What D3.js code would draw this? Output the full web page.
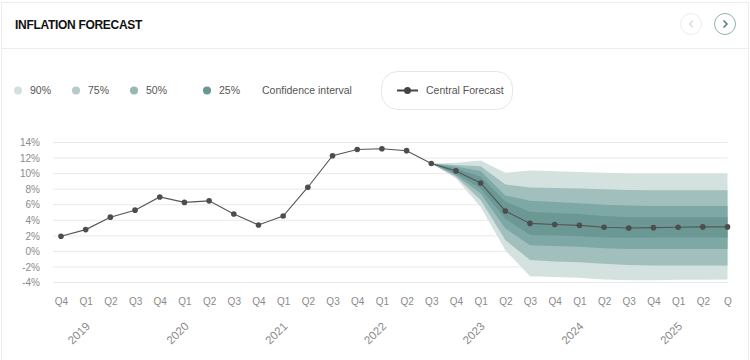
<!DOCTYPE html>
<html>
<head>
<meta charset="utf-8">
<script src="https://cdn.jsdelivr.net/npm/d3@7"></script>
<style>
html, body { margin: 0; padding: 0; background: #fff; }
svg { display: block; font-family: "Liberation Sans", Arial, Helvetica, sans-serif; }
</style>
</head>
<body>
<svg id="chart" width="750" height="360"></svg>
<script>
// ---- Data ----
const quarterLabels = ["Q4","Q1","Q2","Q3","Q4","Q1","Q2","Q3","Q4","Q1","Q2","Q3","Q4","Q1","Q2","Q3","Q4","Q1","Q2","Q3","Q4","Q1","Q2","Q3","Q4","Q1","Q2","Q"];
const yearLabels = ["2019","2020","2021","2022","2023","2024","2025"];
const yearLabelIndex = [1, 5, 9, 13, 17, 21, 25];
const inflation = [1.95, 2.8, 4.4, 5.3, 7.0, 6.3, 6.5, 4.8, 3.4, 4.55, 8.25, 12.3, 13.1, 13.2, 12.95, 11.3,
                   10.35, 8.8, 5.2, 3.6, 3.45, 3.35, 3.1, 3.0, 3.05, 3.1, 3.15, 3.15];
const forecastStart = 15;
const ci90Upper = [11.3, 11.4, 11.7, 10.1, 10.4, 10.3, 10.2, 10.1, 10.0, 10.0, 10.0, 10.0, 10.0];
const ci90Lower = [11.3, 9.4, 5.7, 0.15, -3.2, -3.3, -3.4, -3.6, -3.7, -3.7, -3.65, -3.65, -3.6];
const ci75Upper = [11.3, 11.1, 10.95, 8.6, 8.2, 8.15, 8.1, 8.0, 7.9, 7.85, 7.85, 7.85, 7.85];
const ci75Lower = [11.3, 9.6, 6.6, 1.45, -1.1, -1.3, -1.4, -1.6, -1.75, -1.8, -1.8, -1.8, -1.8];
const ci50Upper = [11.3, 10.9, 10.35, 7.2, 6.5, 6.35, 6.2, 6.0, 5.9, 5.85, 5.85, 5.85, 5.85];
const ci50Lower = [11.3, 9.8, 7.45, 2.95, 0.8, 0.7, 0.6, 0.4, 0.3, 0.3, 0.3, 0.3, 0.3];
const ci25Upper = [11.3, 10.65, 9.6, 6.4, 5.1, 4.95, 4.8, 4.55, 4.4, 4.4, 4.4, 4.4, 4.4];
const ci25Lower = [11.3, 10.0, 8.1, 4.2, 2.1, 2.05, 1.95, 1.8, 1.75, 1.8, 1.8, 1.8, 1.8];
const yTicks = [-4, -2, 0, 2, 4, 6, 8, 10, 12, 14];
const legendLabels = ["90%", "75%", "50%", "25%"];
const legendColors = ["#d2e0de", "#b3cbc9", "#97b8b5", "#699794"];
const bandColors = ["#d3e1df", "#a1bfbc", "#7ea8a5", "#6b9895"];

// ---- Layout ----
const svg = d3.select("#chart");
const W = 750, H = 360;

// card
svg.append("rect").attr("x", 1.5).attr("y", 2.5).attr("width", W - 3).attr("height", H)
  .attr("fill", "#fff").attr("stroke", "#ececec");
svg.append("line").attr("x1", 1.5).attr("x2", W - 1.5).attr("y1", 48.5).attr("y2", 48.5)
  .attr("stroke", "#ececec");
svg.append("text").attr("x", 15).attr("y", 29).text("INFLATION FORECAST")
  .attr("font-size", 12).attr("font-weight", "bold").attr("fill", "#111")
  .attr("letter-spacing", -0.3);

// nav buttons
svg.append("circle").attr("cx", 691).attr("cy", 24).attr("r", 10.5)
  .attr("fill", "#fff").attr("stroke", "#eeeeee");
svg.append("path").attr("d", "M693,20.5 L689.5,24 L693,27.5").attr("fill", "none")
  .attr("stroke", "#d8d8d8").attr("stroke-width", 1.2);
svg.append("circle").attr("cx", 725).attr("cy", 24).attr("r", 10.5)
  .attr("fill", "#fff").attr("stroke", "#8fb3b0");
svg.append("path").attr("d", "M723.5,20.5 L727,24 L723.5,27.5").attr("fill", "none")
  .attr("stroke", "#4f7d7a").attr("stroke-width", 1.5);

// legend
const legX = [18, 76, 134, 207];
legendLabels.forEach((l, i) => {
  svg.append("circle").attr("cx", legX[i]).attr("cy", 90.5).attr("r", 4).attr("fill", legendColors[i]);
  svg.append("text").attr("x", legX[i] + 12).attr("y", 94.3).text(l)
    .attr("font-size", 10.5).attr("fill", "#555");
});
svg.append("text").attr("x", 262).attr("y", 94.3).text("Confidence interval")
  .attr("font-size", 10.5).attr("fill", "#555");
svg.append("rect").attr("x", 381.5).attr("y", 71.5).attr("width", 131).attr("height", 38)
  .attr("rx", 16).attr("fill", "#fff").attr("stroke", "#e6e6e6");
svg.append("line").attr("x1", 397).attr("x2", 418).attr("y1", 90.5).attr("y2", 90.5)
  .attr("stroke", "#444").attr("stroke-width", 2);
svg.append("circle").attr("cx", 407.5).attr("cy", 90.5).attr("r", 3.5).attr("fill", "#444");
svg.append("text").attr("x", 426).attr("y", 94.3).text("Central Forecast")
  .attr("font-size", 10.5).attr("fill", "#555");

// scales
const x = d3.scaleLinear().domain([0, quarterLabels.length - 1]).range([61, 727.5]);
const y = d3.scaleLinear().domain([-4, 14]).range([282.5, 142.5]);

// grid
const g = svg.append("g");
g.selectAll("line.grid").data(yTicks).enter().append("line")
  .attr("x1", 53).attr("x2", 727.5)
  .attr("y1", d => y(d)).attr("y2", d => y(d))
  .attr("stroke", "#e9e9e9").attr("stroke-width", 1);

// y axis labels via d3 axis
const yAxis = d3.axisLeft(y).tickValues(yTicks).tickFormat(d => d + "%").tickSize(0).tickPadding(0);
const yG = svg.append("g").attr("transform", "translate(40,0)").call(yAxis);
yG.select(".domain").remove();
yG.selectAll("text").attr("font-size", 10).attr("fill", "#8a8a8a")
  .attr("font-family", "Liberation Sans, Arial, sans-serif");

// bands
const fIdx = d3.range(forecastStart, quarterLabels.length);
const bands = [[ci90Upper, ci90Lower], [ci75Upper, ci75Lower], [ci50Upper, ci50Lower], [ci25Upper, ci25Lower]];
const area = d3.area().x(d => x(d.i)).y0(d => y(d.lo)).y1(d => y(d.hi));
bands.forEach((b, k) => {
  const pts = fIdx.map((qi, j) => ({ i: qi, hi: b[0][j], lo: b[1][j] }));
  svg.append("path").datum(pts).attr("d", area).attr("fill", bandColors[k]);
});

// central line
const pts = inflation.map((v, i) => ({ i, v }));
svg.append("path").datum(pts)
  .attr("d", d3.line().x(d => x(d.i)).y(d => y(d.v)))
  .attr("fill", "none").attr("stroke", "#555").attr("stroke-width", 1.1);
svg.selectAll("circle.pt").data(pts).enter().append("circle")
  .attr("cx", d => x(d.i)).attr("cy", d => y(d.v)).attr("r", 2.8).attr("fill", "#4d4d4d");

// x axis
const xAxis = d3.axisBottom(x).tickValues(d3.range(quarterLabels.length))
  .tickFormat(i => quarterLabels[i]).tickSize(0).tickPadding(0);
const xG = svg.append("g").attr("transform", "translate(0,297.5)").call(xAxis);
xG.select(".domain").remove();
xG.selectAll("text").attr("font-size", 10).attr("fill", "#8a8a8a")
  .attr("font-family", "Liberation Sans, Arial, sans-serif");

// year labels
svg.selectAll("text.year").data(yearLabels).enter().append("text")
  .attr("class", "year")
  .attr("transform", (d, i) => `translate(${x(yearLabelIndex[i]) + 5},${327}) rotate(-45)`)
  .attr("text-anchor", "end").attr("font-size", 11.5).attr("fill", "#8a8a8a")
  .text(d => d);
</script>
</body>
</html>
